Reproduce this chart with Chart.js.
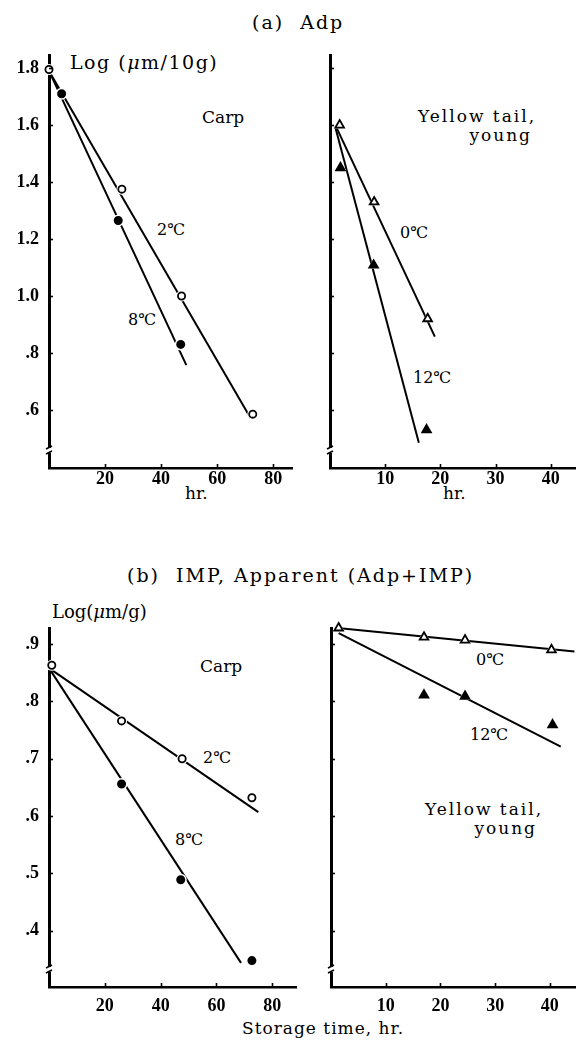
<!DOCTYPE html>
<html>
<head>
<meta charset="utf-8">
<script src="https://cdn.jsdelivr.net/npm/chart.js@4/dist/chart.umd.min.js"></script>
<style>
  html,body{margin:0;padding:0;background:#fff;}
  body{width:582px;height:1043px;position:relative;overflow:hidden;color:#000;font-family:"DejaVu Serif",serif;}
  .t{position:absolute;white-space:pre;line-height:1;font-size:17px;}
  .pc{position:absolute;}
  .deg{font-family:"DejaVu Serif","Noto Sans CJK JP",serif;font-size:16px;}
  .ttl{font-size:19px;letter-spacing:2px;}
  .yt{letter-spacing:2px;}
</style>
</head>
<body>
<div class="t ttl" style="left:252px;top:13px;">(a)  Adp</div>
<div class="t" style="left:70px;top:53px;font-size:19px;letter-spacing:1.5px;">Log (<i>μ</i>m/10g)</div>
<div class="t" style="left:202px;top:109px;">Carp</div>
<div class="t deg" style="left:157px;top:222px;">2℃</div>
<div class="t deg" style="left:128px;top:312px;">8℃</div>
<div class="t yt" style="left:418px;top:108px;">Yellow tail,</div>
<div class="t yt" style="right:50px;top:127px;">young</div>
<div class="t deg" style="left:400px;top:225px;">0℃</div>
<div class="t deg" style="left:413px;top:370px;">12℃</div>
<div class="t" style="left:185px;top:485px;">hr.</div>
<div class="t" style="left:443px;top:485px;">hr.</div>

<div class="t ttl" style="left:127px;top:566px;">(b)  IMP, Apparent (Adp+IMP)</div>
<div class="t" style="left:52px;top:603px;font-size:18px;">Log(<i>μ</i>m/g)</div>
<div class="t" style="left:200px;top:658px;">Carp</div>
<div class="t deg" style="left:203px;top:750px;">2℃</div>
<div class="t deg" style="left:175px;top:832px;">8℃</div>
<div class="t deg" style="left:476px;top:652px;">0℃</div>
<div class="t deg" style="left:470px;top:727px;">12℃</div>
<div class="t yt" style="left:425px;top:801px;">Yellow tail,</div>
<div class="t yt" style="right:45px;top:820px;">young</div>
<div class="t" style="left:242px;top:1020px;letter-spacing:1px;">Storage time, hr.</div>

<canvas id="cTL" class="pc" style="left:0px;top:0px;" width="298" height="500"></canvas>
<canvas id="cTR" class="pc" style="left:282px;top:0px;" width="300" height="500"></canvas>
<canvas id="cBL" class="pc" style="left:0px;top:520px;" width="302" height="492"></canvas>
<canvas id="cBR" class="pc" style="left:283px;top:520px;" width="299" height="492"></canvas>

<script>
// ---------- tick values & labels ----------
const xTicksCarp = [20, 40, 60, 80];
const xTicksYellowtail = [10, 20, 30, 40];
const yTicksAdp = [0.6, 0.8, 1.0, 1.2, 1.4, 1.6, 1.8];
const yTickLabelsAdp = ['.6', '.8', '1.0', '1.2', '1.4', '1.6', '1.8'];
const yTicksImp = [0.4, 0.5, 0.6, 0.7, 0.8, 0.9];
const yTickLabelsImp = ['.4', '.5', '.6', '.7', '.8', '.9'];

// ---------- (a) Adp, Carp ----------
const carpAdp2cHours = [0, 26, 47.3, 72.7];
const carpAdp2cLog = [1.795, 1.375, 1.0, 0.585];
const carpAdp2cFitHours = [0, 72];
const carpAdp2cFitLog = [1.79, 0.57];
const carpAdp8cHours = [4.5, 24.7, 47];
const carpAdp8cLog = [1.71, 1.265, 0.83];
const carpAdp8cFitHours = [0, 49];
const carpAdp8cFitLog = [1.79, 0.757];

// ---------- (a) Adp, Yellow tail ----------
const ytAdp0cHours = [1.75, 8, 17.7];
const ytAdp0cLog = [1.60, 1.33, 0.92];
const ytAdp0cFitHours = [1.2, 19];
const ytAdp0cFitLog = [1.59, 0.857];
const ytAdp12cHours = [1.9, 7.9, 17.5];
const ytAdp12cLog = [1.45, 1.108, 0.53];
const ytAdp12cFitHours = [1.0, 16.1];
const ytAdp12cFitLog = [1.59, 0.485];

// ---------- (b) IMP, Carp ----------
const carpImp2cHours = [1, 26, 47.7, 72.7];
const carpImp2cLog = [0.863, 0.766, 0.70, 0.632];
const carpImp2cFitHours = [0, 75];
const carpImp2cFitLog = [0.858, 0.607];
const carpImp8cHours = [26, 47.2, 72.7];
const carpImp8cLog = [0.656, 0.489, 0.348];
const carpImp8cFitHours = [0, 68.8];
const carpImp8cFitLog = [0.858, 0.344];

// ---------- (b) IMP, Yellow tail ----------
const ytImp0cHours = [1.4, 17, 24.5, 40.3];
const ytImp0cLog = [0.928, 0.912, 0.907, 0.89];
const ytImp0cFitHours = [1.2, 44.5];
const ytImp0cFitLog = [0.928, 0.887];
const ytImp12cHours = [17, 24.5, 40.5];
const ytImp12cLog = [0.811, 0.809, 0.759];
const ytImp12cFitHours = [1.4, 42];
const ytImp12cFitLog = [0.919, 0.721];

// ---------- helpers ----------
const pts = (xs, ys) => xs.map((x, i) => ({x: x, y: ys[i]}));
const tickFont = {family: '"Liberation Serif", serif', size: 18, weight: 'bold'};

function fitLine(xs, ys) {
  return {data: pts(xs, ys), showLine: true, borderColor: '#000', borderWidth: 2,
          pointRadius: 0, order: 3, clip: false};
}
function gap(xs, ys, style, r) {
  return {data: pts(xs, ys), showLine: false, pointStyle: style, pointRadius: r,
          pointBackgroundColor: '#fff', pointBorderColor: '#fff', pointBorderWidth: 0,
          order: 2, clip: false};
}
function marks(xs, ys, style, filled) {
  const r = style === 'circle' ? 3.6 : 5;
  return {data: pts(xs, ys), showLine: false, pointStyle: style, pointRadius: r,
          pointBackgroundColor: filled ? '#000' : '#fff', pointBorderColor: '#000',
          pointBorderWidth: 1.8, order: 1, clip: false};
}

const innerTicks = {
  id: 'innerTicks',
  afterDraw(chart) {
    const {ctx, chartArea: a, scales: {x, y}} = chart;
    ctx.save();
    ctx.strokeStyle = '#000';
    ctx.lineWidth = 1.6;
    x.ticks.forEach(t => {
      const px = Math.round(x.getPixelForValue(t.value)) + 0.5;
      ctx.beginPath(); ctx.moveTo(px, a.bottom); ctx.lineTo(px, a.bottom - 4); ctx.stroke();
    });
    y.ticks.forEach(t => {
      const py = Math.round(y.getPixelForValue(t.value)) + 0.5;
      ctx.beginPath(); ctx.moveTo(a.left, py); ctx.lineTo(a.left + 4, py); ctx.stroke();
    });
    // axis break on the value axis
    const by = a.bottom - 17;
    ctx.fillStyle = '#fff';
    ctx.fillRect(a.left - 3, by - 3, 6, 5);
    ctx.lineWidth = 1.6;
    ctx.beginPath();
    ctx.moveTo(a.left - 3, by - 2); ctx.lineTo(a.left + 3, by - 5);
    ctx.moveTo(a.left - 3, by + 3); ctx.lineTo(a.left + 3, by);
    ctx.stroke();
    ctx.restore();
  }
};

function makePanel(id, cfg) {
  new Chart(document.getElementById(id), {
    type: 'scatter',
    data: {datasets: cfg.datasets},
    plugins: [innerTicks],
    options: {
      responsive: false,
      animation: false,
      devicePixelRatio: 1,
      layout: {padding: cfg.padding},
      plugins: {legend: {display: false}, tooltip: {enabled: false}},
      scales: {
        x: {
          type: 'linear', min: cfg.xMin, max: cfg.xMax,
          afterBuildTicks: s => { s.ticks = cfg.xTicks.map(v => ({value: v})); },
          afterFit: s => { s.height = cfg.xHeight; s.paddingLeft = 0; s.paddingRight = 0; },
          ticks: {font: tickFont, color: '#000', padding: cfg.xPad, maxRotation: 0, autoSkip: false,
                  callback: v => String(v)},
          grid: {display: false, drawTicks: false},
          border: {display: true, color: '#000', width: 2.5}
        },
        y: {
          type: 'linear', min: cfg.yMin, max: cfg.yMax,
          afterBuildTicks: s => { s.ticks = cfg.yTicks.map(v => ({value: v})); },
          afterFit: s => { s.width = cfg.yWidth; s.paddingTop = 0; s.paddingBottom = 0; },
          ticks: {display: cfg.yLabels !== null, font: tickFont, color: '#000', padding: 10, autoSkip: false,
                  callback: (v) => {
                    if (!cfg.yLabels) return '';
                    const i = cfg.yTicks.findIndex(t => Math.abs(t - v) < 1e-6);
                    return i >= 0 ? cfg.yLabels[i] : '';
                  }},
          grid: {display: false, drawTicks: false},
          border: {display: true, color: '#000', width: 3}
        }
      }
    }
  });
}

// top-left: Adp, Carp
makePanel('cTL', {
  padding: {left: 0, right: 3, top: 55, bottom: 8},
  xHeight: 24, xPad: 1,
  yWidth: 49, xMin: 0, xMax: 86.7, yMin: 0.396, yMax: 1.846,
  xTicks: xTicksCarp, yTicks: yTicksAdp, yLabels: yTickLabelsAdp,
  datasets: [
    fitLine(carpAdp2cFitHours, carpAdp2cFitLog),
    fitLine(carpAdp8cFitHours, carpAdp8cFitLog),
    gap(carpAdp2cHours, carpAdp2cLog, 'circle', 5.5),
    gap(carpAdp8cHours, carpAdp8cLog, 'circle', 6),
    marks(carpAdp2cHours, carpAdp2cLog, 'circle', false),
    marks(carpAdp8cHours, carpAdp8cLog, 'circle', true)
  ]
});

// top-right: Adp, Yellow tail
makePanel('cTR', {
  padding: {left: 0, right: 0, top: 55, bottom: 8},
  xHeight: 24, xPad: 1,
  yWidth: 48, xMin: 0, xMax: 44.4, yMin: 0.396, yMax: 1.846,
  xTicks: xTicksYellowtail, yTicks: yTicksAdp, yLabels: null,
  datasets: [
    fitLine(ytAdp0cFitHours, ytAdp0cFitLog),
    fitLine(ytAdp12cFitHours, ytAdp12cFitLog),
    gap(ytAdp0cHours, ytAdp0cLog, 'triangle', 7),
    gap(ytAdp12cHours, ytAdp12cLog, 'triangle', 7),
    marks(ytAdp0cHours, ytAdp0cLog, 'triangle', false),
    marks(ytAdp12cHours, ytAdp12cLog, 'triangle', true)
  ]
});

// bottom-left: IMP, Carp
makePanel('cBL', {
  padding: {left: 0, right: 2, top: 108, bottom: 1},
  xHeight: 24, xPad: 9,
  yWidth: 49, xMin: 0, xMax: 88.5, yMin: 0.302, yMax: 0.928,
  xTicks: xTicksCarp, yTicks: yTicksImp, yLabels: yTickLabelsImp,
  datasets: [
    fitLine(carpImp2cFitHours, carpImp2cFitLog),
    fitLine(carpImp8cFitHours, carpImp8cFitLog),
    gap(carpImp2cHours, carpImp2cLog, 'circle', 5.5),
    gap(carpImp8cHours, carpImp8cLog, 'circle', 6),
    marks(carpImp2cHours, carpImp2cLog, 'circle', false),
    marks(carpImp8cHours, carpImp8cLog, 'circle', true)
  ]
});

// bottom-right: IMP, Yellow tail
makePanel('cBR', {
  padding: {left: 0, right: 0, top: 108, bottom: 1},
  xHeight: 24, xPad: 9,
  yWidth: 48, xMin: 0, xMax: 44.6, yMin: 0.302, yMax: 0.928,
  xTicks: xTicksYellowtail, yTicks: yTicksImp, yLabels: null,
  datasets: [
    fitLine(ytImp0cFitHours, ytImp0cFitLog),
    fitLine(ytImp12cFitHours, ytImp12cFitLog),
    gap(ytImp0cHours, ytImp0cLog, 'triangle', 7),
    gap(ytImp12cHours, ytImp12cLog, 'triangle', 7),
    marks(ytImp0cHours, ytImp0cLog, 'triangle', false),
    marks(ytImp12cHours, ytImp12cLog, 'triangle', true)
  ]
});
</script>
</body>
</html>
